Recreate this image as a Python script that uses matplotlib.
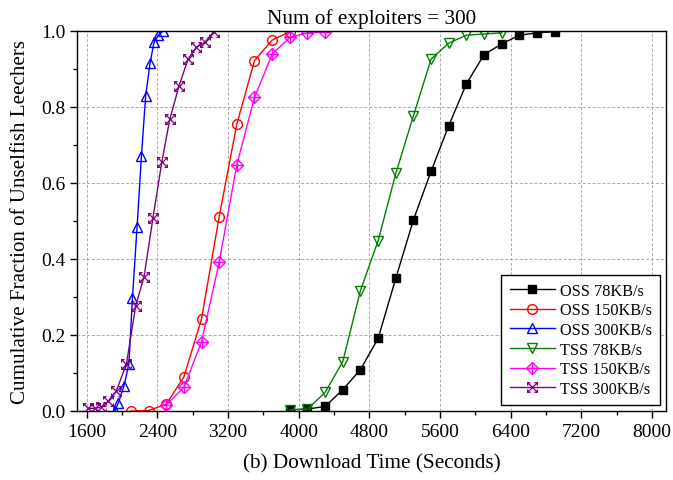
import matplotlib
matplotlib.use('Agg')
import matplotlib.pyplot as plt
from matplotlib.path import Path
from matplotlib.ticker import MultipleLocator

# values
oss78_x = [3900, 4100, 4300, 4500, 4700, 4900, 5100, 5300, 5500, 5700, 5900, 6100, 6300, 6500, 6700, 6900]
oss78_y = [0.003, 0.005, 0.012, 0.056, 0.109, 0.191, 0.349, 0.503, 0.631, 0.751, 0.861, 0.938, 0.966, 0.989, 0.995, 0.998]

oss150_x = [2100, 2300, 2500, 2700, 2900, 3100, 3300, 3500, 3700, 3900]
oss150_y = [0.0, 0.001, 0.018, 0.089, 0.242, 0.511, 0.755, 0.922, 0.976, 0.998]

oss300_x = [1917, 1960, 2023, 2078, 2118, 2170, 2220, 2268, 2317, 2362, 2412, 2465]
oss300_y = [0.0, 0.022, 0.067, 0.124, 0.297, 0.483, 0.672, 0.830, 0.915, 0.970, 0.989, 1.0]

tss78_x = [3900, 4100, 4300, 4500, 4700, 4900, 5100, 5300, 5500, 5700, 5900, 6100, 6300]
tss78_y = [0.003, 0.005, 0.049, 0.130, 0.317, 0.448, 0.625, 0.777, 0.926, 0.968, 0.989, 0.992, 0.995]

tss150_x = [2500, 2700, 2900, 3100, 3300, 3500, 3700, 3900, 4100, 4300]
tss150_y = [0.016, 0.062, 0.182, 0.391, 0.648, 0.825, 0.939, 0.983, 0.995, 0.998]

tss300_x = [1620, 1690, 1760, 1841, 1936, 2050, 2155, 2249, 2351, 2450, 2541, 2646, 2748, 2843, 2937, 3039]
tss300_y = [0.007, 0.007, 0.010, 0.025, 0.053, 0.124, 0.277, 0.353, 0.509, 0.654, 0.768, 0.856, 0.926, 0.957, 0.970, 0.998]

labels = ['OSS 78KB/s', 'OSS 150KB/s', 'OSS 300KB/s', 'TSS 78KB/s', 'TSS 150KB/s', 'TSS 300KB/s']

plt.rcParams['font.family'] = ['Liberation Serif', 'DejaVu Serif']

# X with short end bars (origin style "x in box")
xbox = Path([(-1, -1), (1, 1), (-1, 1), (1, -1),
             (-1, -1), (-1, -0.4), (1, -1), (1, -0.4),
             (-1, 1), (-1, 0.4), (1, 1), (1, 0.4),
             (-1, -1), (-0.4, -1), (1, -1), (0.4, -1),
             (-1, 1), (-0.4, 1), (1, 1), (0.4, 1)],
            [Path.MOVETO, Path.LINETO, Path.MOVETO, Path.LINETO] + [Path.MOVETO, Path.LINETO] * 8)

fig = plt.figure(figsize=(6.73, 4.81), dpi=100)
ax = fig.add_axes([0.1144, 0.1435, 0.8752, 0.79])

lw = 1.0
h1, = ax.plot(oss78_x, oss78_y, color='black', lw=lw, marker='s', ms=6, mfc='black', mec='black')
h2, = ax.plot(oss150_x, oss150_y, color='red', lw=lw, marker='o', ms=7, mfc='none', mec='red')
h3, = ax.plot(oss300_x, oss300_y, color='blue', lw=lw, marker='^', ms=7.5, mfc='none', mec='blue')
h4, = ax.plot(tss78_x, tss78_y, color='green', lw=lw, marker='v', ms=7.5, mfc='none', mec='green')
h5, = ax.plot(tss150_x, tss150_y, color='magenta', lw=lw, marker='D', ms=6, mfc='none', mec='magenta')
h5b, = ax.plot(tss150_x, tss150_y, ls='none', marker='+', ms=8, mec='magenta', mew=1)
h6, = ax.plot(tss300_x, tss300_y, color='purple', lw=lw, marker=xbox, ms=7, mfc='none', mec='purple', mew=0.9)

ax.set_xlim(1490, 8160)
ax.set_ylim(0, 1.0)
ax.xaxis.set_minor_locator(MultipleLocator(400))
ax.yaxis.set_minor_locator(MultipleLocator(0.1))
ax.set_xticks([1600, 2400, 3200, 4000, 4800, 5600, 6400, 7200, 8000])
ax.set_yticks([0.0, 0.2, 0.4, 0.6, 0.8, 1.0])
ax.set_yticklabels(['0.0', '0.2', '0.4', '0.6', '0.8', '1.0'])

ax.tick_params(which='major', direction='out', length=5, width=1, labelsize=14, top=False, right=False)
ax.tick_params(which='minor', direction='out', length=3, width=1, top=False, right=False)
ax.grid(True, which='major', color='#aaaaaa', ls=(0, (3, 2)), lw=0.7)
for s in ax.spines.values():
    s.set_linewidth(1.0)

ax.set_title('Num of exploiters = 300', fontsize=15.3, pad=6)
ax.set_xlabel('(b) Download Time (Seconds)', fontsize=15.3, labelpad=10)
ax.set_ylabel('Cumulative Fraction of Unselfish Leechers', fontsize=15.1, labelpad=8)

leg = ax.legend([h1, h2, h3, h4, (h5, h5b), h6], labels, loc='lower right',
                bbox_to_anchor=(0.99, 0.016), borderaxespad=0, fontsize=11.7,
                fancybox=False, edgecolor='black', framealpha=1, handlelength=2.8,
                handletextpad=0.3, labelspacing=0.22, borderpad=0.5)
leg.get_frame().set_linewidth(1.0)

fig.savefig('out.png', dpi=100)
